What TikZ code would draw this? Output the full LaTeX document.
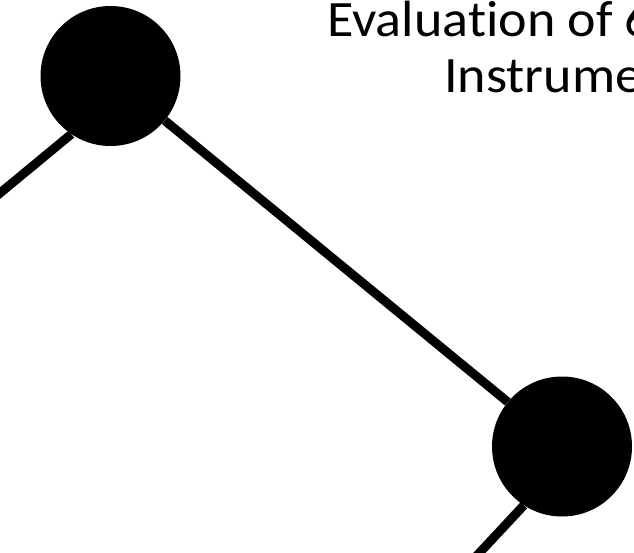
\documentclass[tikz,border=0pt]{standalone}
\usepackage{fontspec}
\setmainfont{Carlito}[Ligatures=NoCommon]
\begin{document}
\begin{tikzpicture}[x=1pt,y=-1pt,
  dot/.style={circle, fill=black, minimum size=140pt, inner sep=0pt},
  edge/.style={line width=9pt},
  title/.style={anchor=base west, inner sep=0pt, font=\fontsize{51}{56}\selectfont}]
  % Frame
  \useasboundingbox (0,0) rectangle (634,552);
  \clip (0,0) rectangle (634,552);

  % Title (cut off at the right edge)
  \node[title] (title1) at (327,36) {\scalebox{1.06}[1]{Evaluation of 6}};
  \node[title] (title2) at (444,92) {\scalebox{1.06}[1]{Instrume}};

  % Dots
  \node[dot] (c1) at (110.5,76) {};
  \node[dot] (c2) at (562,446.5) {};
  \coordinate (a) at (-12,203);
  \coordinate (b) at (470,563);

  % Edges
  \draw[edge] (a) -- (c1.236);
  \draw[edge] (c1) -- (c2);
  \draw[edge] (c2.237) -- (b);
\end{tikzpicture}
\end{document}
